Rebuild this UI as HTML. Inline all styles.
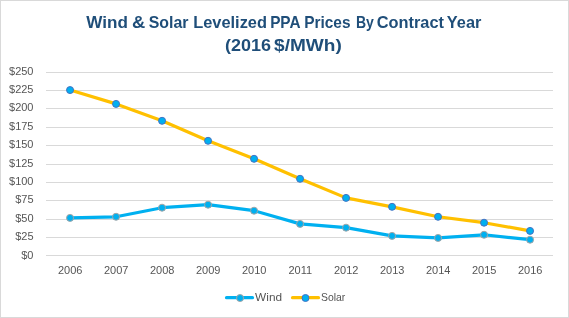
<!DOCTYPE html>
<html><head><meta charset="utf-8"><style>
html,body{margin:0;padding:0;background:#fff;}
body{width:569px;height:318px;overflow:hidden;}
svg{display:block;will-change:transform;}
text{font-family:"Liberation Sans",sans-serif;}
.grid line{stroke:#d9d9d9;stroke-width:1;}
.yl text{font-size:11px;fill:#555555;text-anchor:end;}
.xl text{font-size:11px;fill:#555555;text-anchor:middle;}
.title{font-size:16.5px;font-weight:bold;fill:#1f4e79;}
.leg{font-size:11px;fill:#555555;}
.mw{fill:#00b0f0;stroke:#a5a5a5;stroke-width:1.0;}
.ms{fill:#00b0f0;stroke:#4472c4;stroke-width:1.0;}
</style></head><body>
<svg width="569" height="318" viewBox="0 0 569 318">
<rect x="0.5" y="0.5" width="568" height="317" fill="#fff" stroke="#d9d9d9" stroke-width="1"/>
<text id="t0" class="title" x="86.26" y="27.8" textLength="41.63" lengthAdjust="spacingAndGlyphs">Wind</text>
<text id="t1" class="title" x="131.98" y="27.8" textLength="13.29" lengthAdjust="spacingAndGlyphs">&amp;</text>
<text id="t2" class="title" x="148.69" y="27.8" textLength="39.73" lengthAdjust="spacingAndGlyphs">Solar</text>
<text id="t3" class="title" x="193.23" y="27.8" textLength="73.77" lengthAdjust="spacingAndGlyphs">Levelized</text>
<text id="t4" class="title" x="270.13" y="27.8" textLength="30.45" lengthAdjust="spacingAndGlyphs">PPA</text>
<text id="t5" class="title" x="304.13" y="27.8" textLength="46.37" lengthAdjust="spacingAndGlyphs">Prices</text>
<text id="t6" class="title" x="355.93" y="27.8" textLength="17.92" lengthAdjust="spacingAndGlyphs">By</text>
<text id="t7" class="title" x="376.67" y="27.8" textLength="67.28" lengthAdjust="spacingAndGlyphs">Contract</text>
<text id="t8" class="title" x="446.84" y="27.8" textLength="34.54" lengthAdjust="spacingAndGlyphs">Year</text>
<text id="t9" class="title" x="225.07" y="50.8" textLength="45.98" lengthAdjust="spacingAndGlyphs">(2016</text>
<text id="t10" class="title" x="274.12" y="50.8" textLength="67.73" lengthAdjust="spacingAndGlyphs">$/MWh)</text>
<text id="t11" class="leg" x="255.11" y="301" textLength="26.95" lengthAdjust="spacingAndGlyphs">Wind</text>
<text id="t12" class="leg" x="320.99" y="301" textLength="24.37" lengthAdjust="spacingAndGlyphs">Solar</text>
<g class="grid"><line x1="46" x2="553" y1="255.5" y2="255.5"/><line x1="46" x2="553" y1="237.5" y2="237.5"/><line x1="46" x2="553" y1="219.5" y2="219.5"/><line x1="46" x2="553" y1="200.5" y2="200.5"/><line x1="46" x2="553" y1="182.5" y2="182.5"/><line x1="46" x2="553" y1="164.5" y2="164.5"/><line x1="46" x2="553" y1="145.5" y2="145.5"/><line x1="46" x2="553" y1="127.5" y2="127.5"/><line x1="46" x2="553" y1="108.5" y2="108.5"/><line x1="46" x2="553" y1="90.5" y2="90.5"/><line x1="46" x2="553" y1="72.5" y2="72.5"/></g>
<g class="yl"><text x="33.5" y="259.10">$0</text><text x="33.5" y="240.40">$25</text><text x="33.5" y="222.40">$50</text><text x="33.5" y="203.40">$75</text><text x="33.5" y="185.40">$100</text><text x="33.5" y="167.40">$125</text><text x="33.5" y="148.40">$150</text><text x="33.5" y="130.40">$175</text><text x="33.5" y="111.40">$200</text><text x="33.5" y="93.40">$225</text><text x="33.5" y="75.40">$250</text></g>
<g class="xl"><text x="70.25" y="274">2006</text><text x="116.25" y="274">2007</text><text x="162.25" y="274">2008</text><text x="208.25" y="274">2009</text><text x="254.25" y="274">2010</text><text x="300.25" y="274">2011</text><text x="346.25" y="274">2012</text><text x="392.25" y="274">2013</text><text x="438.25" y="274">2014</text><text x="484.25" y="274">2015</text><text x="530.25" y="274">2016</text></g>
<polyline points="70.05,217.88 116.05,216.78 162.05,207.70 208.05,204.70 254.05,210.70 300.05,223.88 346.05,227.68 392.05,235.88 438.05,237.93 484.05,234.78 530.05,239.69" fill="none" stroke="#00b0f0" stroke-width="3.2" stroke-linejoin="round" stroke-linecap="round"/>
<polyline points="70.05,90.07 116.05,103.90 162.05,120.81 208.05,140.80 254.05,158.80 300.05,178.79 346.05,197.89 392.05,206.82 438.05,216.78 484.05,222.71 530.05,230.90" fill="none" stroke="#ffc000" stroke-width="3.2" stroke-linejoin="round" stroke-linecap="round"/>
<circle cx="70.05" cy="217.88" r="3.5" class="mw"/><circle cx="116.05" cy="216.78" r="3.5" class="mw"/><circle cx="162.05" cy="207.70" r="3.5" class="mw"/><circle cx="208.05" cy="204.70" r="3.5" class="mw"/><circle cx="254.05" cy="210.70" r="3.5" class="mw"/><circle cx="300.05" cy="223.88" r="3.5" class="mw"/><circle cx="346.05" cy="227.68" r="3.5" class="mw"/><circle cx="392.05" cy="235.88" r="3.5" class="mw"/><circle cx="438.05" cy="237.93" r="3.5" class="mw"/><circle cx="484.05" cy="234.78" r="3.5" class="mw"/><circle cx="530.05" cy="239.69" r="3.5" class="mw"/>
<circle cx="70.05" cy="90.07" r="3.5" class="ms"/><circle cx="116.05" cy="103.90" r="3.5" class="ms"/><circle cx="162.05" cy="120.81" r="3.5" class="ms"/><circle cx="208.05" cy="140.80" r="3.5" class="ms"/><circle cx="254.05" cy="158.80" r="3.5" class="ms"/><circle cx="300.05" cy="178.79" r="3.5" class="ms"/><circle cx="346.05" cy="197.89" r="3.5" class="ms"/><circle cx="392.05" cy="206.82" r="3.5" class="ms"/><circle cx="438.05" cy="216.78" r="3.5" class="ms"/><circle cx="484.05" cy="222.71" r="3.5" class="ms"/><circle cx="530.05" cy="230.90" r="3.5" class="ms"/>
<line x1="226.5" x2="252.5" y1="297.65" y2="297.65" stroke="#00b0f0" stroke-width="3.2" stroke-linecap="round"/>
<circle cx="240.05" cy="298" r="3.5" class="mw"/>
<line x1="292.5" x2="318.5" y1="297.65" y2="297.65" stroke="#ffc000" stroke-width="3.2" stroke-linecap="round"/>
<circle cx="305.5" cy="298" r="3.5" class="ms"/>
</svg>
</body></html>
